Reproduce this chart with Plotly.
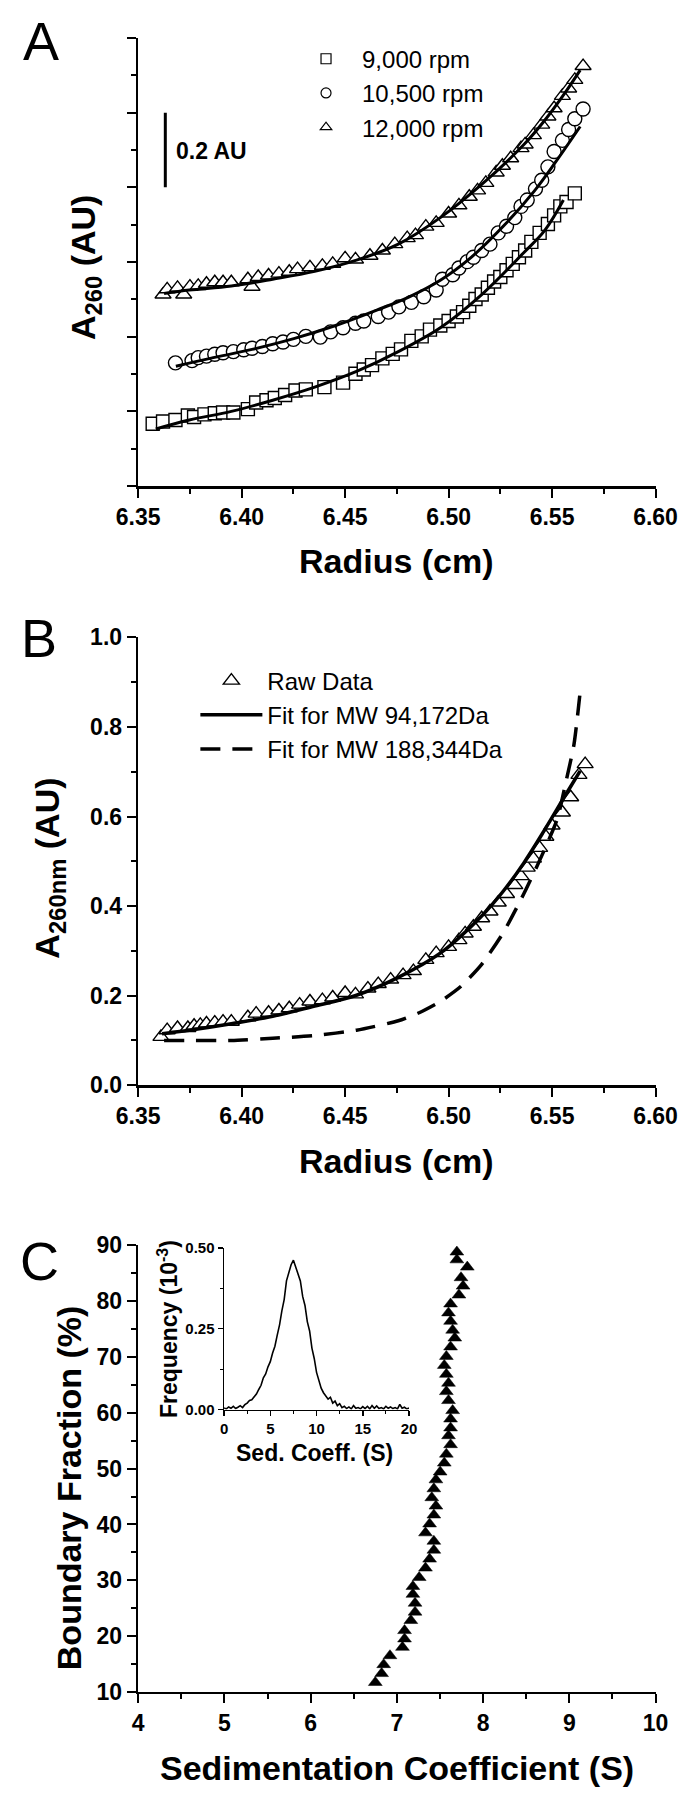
import plotly.graph_objects as go

F = "Liberation Sans, Arial, Helvetica, sans-serif"

# ---------------- Panel A data ----------------
sq_x = [6.357, 6.362, 6.368, 6.374, 6.377, 6.382, 6.387, 6.391, 6.396, 6.403, 6.407, 6.412, 6.416,
        6.421, 6.426, 6.431, 6.440, 6.449, 6.455, 6.459, 6.463, 6.468, 6.473, 6.477, 6.482, 6.487,
        6.491, 6.496, 6.500, 6.504, 6.507, 6.510, 6.513, 6.516, 6.519, 6.522, 6.525, 6.528, 6.531,
        6.534, 6.537, 6.540, 6.544, 6.548, 6.551, 6.554, 6.557, 6.561]
sq_y = [0.167, 0.173, 0.177, 0.189, 0.185, 0.192, 0.195, 0.197, 0.197, 0.206, 0.224, 0.230, 0.236,
        0.244, 0.256, 0.259, 0.265, 0.277, 0.301, 0.312, 0.324, 0.342, 0.354, 0.366, 0.389, 0.401,
        0.419, 0.430, 0.442, 0.454, 0.466, 0.483, 0.501, 0.513, 0.531, 0.548, 0.560, 0.578, 0.595,
        0.613, 0.631, 0.654, 0.678, 0.702, 0.725, 0.749, 0.761, 0.784]

ci_x = [6.368, 6.376, 6.379, 6.383, 6.387, 6.391, 6.396, 6.401, 6.405, 6.410, 6.415, 6.420, 6.425,
        6.431, 6.438, 6.443, 6.449, 6.455, 6.459, 6.466, 6.471, 6.476, 6.482, 6.488, 6.494, 6.497,
        6.502, 6.505, 6.509, 6.512, 6.516, 6.520, 6.524, 6.528, 6.532, 6.535, 6.538, 6.542, 6.545,
        6.548, 6.551, 6.555, 6.558, 6.561, 6.565]
ci_y = [0.330, 0.336, 0.344, 0.348, 0.353, 0.357, 0.360, 0.365, 0.369, 0.374, 0.381, 0.386, 0.393,
        0.401, 0.399, 0.413, 0.424, 0.436, 0.442, 0.454, 0.466, 0.480, 0.492, 0.507, 0.525, 0.554,
        0.566, 0.584, 0.601, 0.613, 0.631, 0.648, 0.678, 0.696, 0.719, 0.749, 0.766, 0.796, 0.819,
        0.855, 0.896, 0.926, 0.955, 0.984, 1.010]

tr_x = [6.362, 6.364, 6.369, 6.372, 6.375, 6.379, 6.383, 6.387, 6.391, 6.395, 6.403, 6.405, 6.408,
        6.413, 6.418, 6.423, 6.427, 6.433, 6.439, 6.444, 6.450, 6.455, 6.462, 6.468, 6.474, 6.480,
        6.484, 6.489, 6.494, 6.500, 6.505, 6.510, 6.514, 6.518, 6.523, 6.526, 6.530, 6.535, 6.537,
        6.541, 6.545, 6.548, 6.551, 6.555, 6.558, 6.561, 6.565]
tr_y = [0.513, 0.527, 0.531, 0.513, 0.534, 0.536, 0.542, 0.546, 0.546, 0.546, 0.554, 0.534, 0.560,
        0.564, 0.569, 0.574, 0.581, 0.586, 0.590, 0.595, 0.610, 0.607, 0.617, 0.631, 0.648, 0.664,
        0.672, 0.695, 0.705, 0.730, 0.752, 0.775, 0.792, 0.812, 0.840, 0.858, 0.878, 0.905, 0.915,
        0.940, 0.968, 0.990, 1.012, 1.045, 1.065, 1.088, 1.125]

sq_fit_x = [6.3585, 6.3747, 6.395, 6.415, 6.4353, 6.4555, 6.4757, 6.496, 6.516, 6.5363, 6.5464, 6.5555]
sq_fit_y = [0.153, 0.177, 0.200, 0.230, 0.265, 0.307, 0.360, 0.424, 0.513, 0.625, 0.684, 0.766]
ci_fit_x = [6.3682, 6.3848, 6.405, 6.4252, 6.4454, 6.4656, 6.481, 6.4962, 6.5112, 6.5263, 6.5414, 6.552, 6.5636]
ci_fit_y = [0.321, 0.342, 0.366, 0.395, 0.430, 0.472, 0.507, 0.552, 0.614, 0.695, 0.790, 0.870, 0.963]
tr_fit_x = [6.3625, 6.3747, 6.395, 6.415, 6.4353, 6.4555, 6.4757, 6.496, 6.516, 6.5363, 6.5464, 6.5565, 6.5636]
tr_fit_y = [0.516, 0.525, 0.536, 0.554, 0.575, 0.605, 0.648, 0.719, 0.808, 0.914, 0.979, 1.055, 1.114]

# ---------------- Panel B data ----------------
raw_x = [6.361, 6.364, 6.369, 6.374, 6.377, 6.380, 6.383, 6.387, 6.391, 6.395, 6.403, 6.407, 6.413,
         6.418, 6.423, 6.428, 6.433, 6.439, 6.444, 6.450, 6.455, 6.461, 6.466, 6.472, 6.478, 6.483,
         6.489, 6.494, 6.500, 6.505, 6.508, 6.512, 6.516, 6.520, 6.524, 6.528, 6.532, 6.535, 6.538,
         6.541, 6.544, 6.547, 6.550, 6.555, 6.559, 6.563, 6.566]
raw_y = [0.108, 0.123, 0.128, 0.128, 0.133, 0.135, 0.138, 0.140, 0.142, 0.142, 0.152, 0.160, 0.162,
         0.167, 0.172, 0.180, 0.187, 0.190, 0.196, 0.206, 0.203, 0.216, 0.226, 0.236, 0.246, 0.255,
         0.280, 0.295, 0.309, 0.324, 0.339, 0.354, 0.373, 0.388, 0.408, 0.427, 0.447, 0.467, 0.486,
         0.506, 0.530, 0.555, 0.580, 0.609, 0.643, 0.693, 0.717]
fit1_x = [6.3615, 6.3747, 6.395, 6.415, 6.4353, 6.4555, 6.4757, 6.496, 6.516, 6.5262, 6.5363, 6.5464, 6.5565, 6.5636]
fit1_y = [0.115, 0.123, 0.1375, 0.154, 0.177, 0.201, 0.241, 0.295, 0.378, 0.432, 0.496, 0.570, 0.648, 0.702]
fit2_x = [6.3625, 6.3747, 6.395, 6.415, 6.4353, 6.4555, 6.4757, 6.4858, 6.496, 6.506, 6.516, 6.5262,
          6.5363, 6.5444, 6.5525, 6.5565, 6.5606, 6.5636]
fit2_y = [0.100, 0.100, 0.100, 0.105, 0.111, 0.123, 0.144, 0.162, 0.187, 0.221, 0.270, 0.339,
          0.427, 0.506, 0.594, 0.673, 0.761, 0.879]

# ---------------- Panel C data ----------------
sed_s = [7.696, 7.696, 7.817, 7.744, 7.768, 7.720, 7.623, 7.599, 7.623, 7.647, 7.672, 7.623, 7.574,
         7.550, 7.574, 7.599, 7.574, 7.599, 7.647, 7.623, 7.623, 7.599, 7.623, 7.574, 7.550, 7.502,
         7.453, 7.429, 7.405, 7.453, 7.429, 7.380, 7.332, 7.429, 7.429, 7.380, 7.332, 7.259, 7.186,
         7.186, 7.211, 7.211, 7.162, 7.089, 7.089, 7.065, 6.920, 6.847, 6.823, 6.750]
bnd_frac = [88.8, 87.4, 86.1, 84.2, 82.7, 81.1, 79.5, 77.9, 76.4, 74.8, 73.4, 71.8, 70.1,
            68.5, 66.9, 65.3, 63.8, 62.2, 60.4, 58.9, 57.3, 55.9, 54.3, 52.6, 51.0, 49.4,
            48.0, 46.4, 44.8, 43.3, 41.7, 40.1, 38.5, 37.0, 35.4, 33.8, 32.2, 30.5, 28.9,
            27.5, 25.9, 24.3, 22.8, 21.0, 19.5, 18.0, 16.5, 14.9, 13.3, 11.7]

inset_s = [0.0, 0.25, 0.5, 0.75, 1.0, 1.25, 1.5, 1.75, 2.0, 2.25, 2.5, 2.75, 3.0, 3.25, 3.5, 3.75,
           4.0, 4.25, 4.5, 4.75, 5.0, 5.25, 5.5, 5.75, 6.0, 6.25, 6.5, 6.75, 7.0, 7.25, 7.5, 7.75,
           8.0, 8.25, 8.5, 8.75, 9.0, 9.25, 9.5, 9.75, 10.0, 10.25, 10.5, 10.75, 11.0, 11.25, 11.5,
           11.75, 12.0, 12.25, 12.5, 12.75, 13.0, 13.25, 13.5, 13.75, 14.0, 14.25, 14.5, 14.75, 15.0,
           15.25, 15.5, 15.75, 16.0, 16.25, 16.5, 16.75, 17.0, 17.25, 17.5, 17.75, 18.0, 18.25, 18.5,
           18.75, 19.0, 19.25, 19.5, 19.75, 20.0]
inset_f = [0.005, 0.002, 0.008, 0.004, 0.010, 0.003, 0.007, 0.012, 0.006, 0.015, 0.020, 0.028, 0.030,
           0.038, 0.048, 0.062, 0.075, 0.098, 0.110, 0.132, 0.148, 0.175, 0.196, 0.230, 0.262, 0.305,
           0.340, 0.398, 0.425, 0.448, 0.462, 0.440, 0.418, 0.398, 0.350, 0.322, 0.272, 0.243, 0.190,
           0.158, 0.115, 0.092, 0.066, 0.052, 0.040, 0.032, 0.038, 0.020, 0.026, 0.012, 0.018, 0.006,
           0.010, 0.003, 0.008, 0.002, 0.012, 0.004, 0.006, 0.002, 0.009, 0.003, 0.010, 0.002, 0.012,
           0.004, 0.011, 0.003, 0.006, 0.002, 0.010, 0.004, 0.008, 0.003, 0.006, 0.002, 0.016, 0.004,
           0.007, 0.002, 0.005]

W, H = 700, 1800
def px(x): return x / W
def py(y): return 1 - y / H

fig = go.Figure()

def mk(symbol, size, fill="white", lw=1.4):
    return dict(symbol=symbol, size=size, color=fill, line=dict(color="black", width=lw))

# Panel A
fig.add_trace(go.Scatter(x=sq_x, y=sq_y, mode="markers", marker=mk("square", 13), showlegend=False, xaxis="x", yaxis="y"))
fig.add_trace(go.Scatter(x=ci_x, y=ci_y, mode="markers", marker=mk("circle", 14), showlegend=False, xaxis="x", yaxis="y"))
fig.add_trace(go.Scatter(x=tr_x, y=tr_y, mode="markers", marker=mk("triangle-up", 14), showlegend=False, xaxis="x", yaxis="y"))
for fx, fy in [(sq_fit_x, sq_fit_y), (ci_fit_x, ci_fit_y), (tr_fit_x, tr_fit_y)]:
    fig.add_trace(go.Scatter(x=fx, y=fy, mode="lines", line=dict(color="black", width=3, shape="spline", smoothing=1.0),
                             showlegend=False, xaxis="x", yaxis="y"))
for name, sym in [("9,000 rpm", "square"), ("10,500 rpm", "circle"), ("12,000 rpm", "triangle-up")]:
    fig.add_trace(go.Scatter(x=[None], y=[None], mode="markers", marker=mk(sym, 10, lw=1.2), name=name,
                             legend="legend", xaxis="x", yaxis="y"))

# Panel B
fig.add_trace(go.Scatter(x=raw_x, y=raw_y, mode="markers", marker=mk("triangle-up", 14), name="Raw Data",
                         legend="legend2", xaxis="x2", yaxis="y2"))
fig.add_trace(go.Scatter(x=fit1_x, y=fit1_y, mode="lines", line=dict(color="black", width=3.5, shape="spline"),
                         name="Fit for MW 94,172Da", legend="legend2", xaxis="x2", yaxis="y2"))
fig.add_trace(go.Scatter(x=fit2_x, y=fit2_y, mode="lines",
                         line=dict(color="black", width=3.5, dash="20px,12px", shape="spline", smoothing=0.6),
                         name="Fit for MW 188,344Da", legend="legend2", xaxis="x2", yaxis="y2"))

# Panel C
fig.add_trace(go.Scatter(x=sed_s, y=bnd_frac, mode="markers", marker=mk("triangle-up", 12, fill="black", lw=0.5),
                         showlegend=False, xaxis="x3", yaxis="y3"))
fig.add_trace(go.Scatter(x=inset_s, y=inset_f, mode="lines", line=dict(color="black", width=1.6),
                         showlegend=False, xaxis="x4", yaxis="y4"))

def axis(**kw):
    d = dict(showline=True, linecolor="black", linewidth=2.5, ticks="outside", ticklen=9, tickwidth=2,
             tickcolor="black", showgrid=False, zeroline=False, mirror=False,
             tickfont=dict(family=F, size=23, color="black", weight="bold"),
             minor=dict(ticks="outside", ticklen=5, tickwidth=2, tickcolor="black", showgrid=False))
    minor = kw.pop("minor_dtick", None)
    if minor is not None:
        d["minor"]["dtick"] = minor
    d.update(kw)
    return d

def inset_axis(**kw):
    d = dict(showline=True, linecolor="black", linewidth=1.5, ticks="outside", ticklen=5, tickwidth=1.5,
             tickcolor="black", showgrid=False, zeroline=False,
             tickfont=dict(family=F, size=15, color="black", weight="bold"))
    d.update(kw)
    return d

xdom = [px(124), px(676)]
fig.update_layout(
    width=W, height=H, autosize=False,
    margin=dict(l=0, r=0, t=0, b=0),
    paper_bgcolor="white", plot_bgcolor="white",
    font=dict(family=F, color="black"),
    hovermode=False,
    xaxis=axis(domain=xdom, anchor="y", range=[6.35, 6.60], tick0=6.35, dtick=0.05, tickformat=".2f", minor_dtick=0.025),
    yaxis=axis(domain=[py(480), py(25.4)], anchor="x", range=[0, 1.2], tick0=0, dtick=0.2, showticklabels=False, minor_dtick=0.1),
    xaxis2=axis(domain=xdom, anchor="y2", range=[6.35, 6.60], tick0=6.35, dtick=0.05, tickformat=".2f", minor_dtick=0.025),
    yaxis2=axis(domain=[py(1088), py(633.5)], anchor="x2", range=[0, 1.0], tick0=0, dtick=0.2, tickformat=".1f", minor_dtick=0.1),
    xaxis3=axis(domain=xdom, anchor="y3", range=[4, 10], tick0=4, dtick=1, minor_dtick=0.5),
    yaxis3=axis(domain=[py(1703.6), py(1250.4)], anchor="x3", range=[10, 90], tick0=10, dtick=10, minor_dtick=5),
    xaxis4=inset_axis(domain=[px(215.6), px(413)], anchor="y4", range=[0, 20], tick0=0, dtick=5,
                      minor=dict(ticks="outside", ticklen=3, tickwidth=1, tickcolor="black", dtick=2.5, showgrid=False)),
    yaxis4=inset_axis(domain=[py(1417), py(1253)], anchor="x4", range=[0, 0.5], tick0=0, dtick=0.25, tickformat=".2f",
                      minor=dict(ticks="outside", ticklen=3, tickwidth=1, tickcolor="black", dtick=0.125, showgrid=False)),
    legend=dict(x=px(286), y=py(24), xanchor="left", yanchor="top", itemwidth=62, bgcolor="rgba(0,0,0,0)",
                font=dict(family=F, size=24, color="black"), tracegroupgap=0),
    legend2=dict(x=px(185), y=py(655), xanchor="left", yanchor="top", itemwidth=62, bgcolor="rgba(0,0,0,0)",
                 font=dict(family=F, size=24, color="black"), tracegroupgap=0),
)

def ann(text, x, y, size, bold=True, angle=0, xanchor="center"):
    fig.add_annotation(text=text, x=px(x), y=py(y), xref="paper", yref="paper", showarrow=False,
                       xanchor=xanchor, yanchor="middle", textangle=angle,
                       font=dict(family=F, size=size, color="black", weight="bold" if bold else "normal"))

# Panel labels
ann("A", 20, 28, 54, bold=False)
ann("B", 18, 634, 54, bold=False)
ann("C", 19, 1266, 54, bold=False)
# Axis titles
ann("Radius (cm)", 400, 556, 34)
ann("Radius (cm)", 400, 1165, 34)
ann("Sedimentation Coefficient (S)", 400, 1781, 34)
ann("A<sub>260</sub> (AU)", 67, 258, 34, angle=-90)
ann("A<sub>260nm</sub> (AU)", 29, 868, 34, angle=-90)
ann("Boundary Fraction (%)", 51, 1496, 34, angle=-90)
ann("Sed. Coeff. (S)", 312, 1461, 23)
ann("Frequency (10<sup>-3</sup>)", 155, 1335, 23, angle=-90)
# Scale bar
fig.add_shape(type="line", xref="x", yref="y", x0=6.3631, x1=6.3631, y0=0.8, y1=1.0,
              line=dict(color="black", width=3))
ann("0.2 AU", 162, 140, 23, xanchor="left")

fig.write_html("out.html", config={"displayModeBar": False, "staticPlot": True},
               post_script="document.body.style.margin='0';document.body.style.overflow='hidden';")
